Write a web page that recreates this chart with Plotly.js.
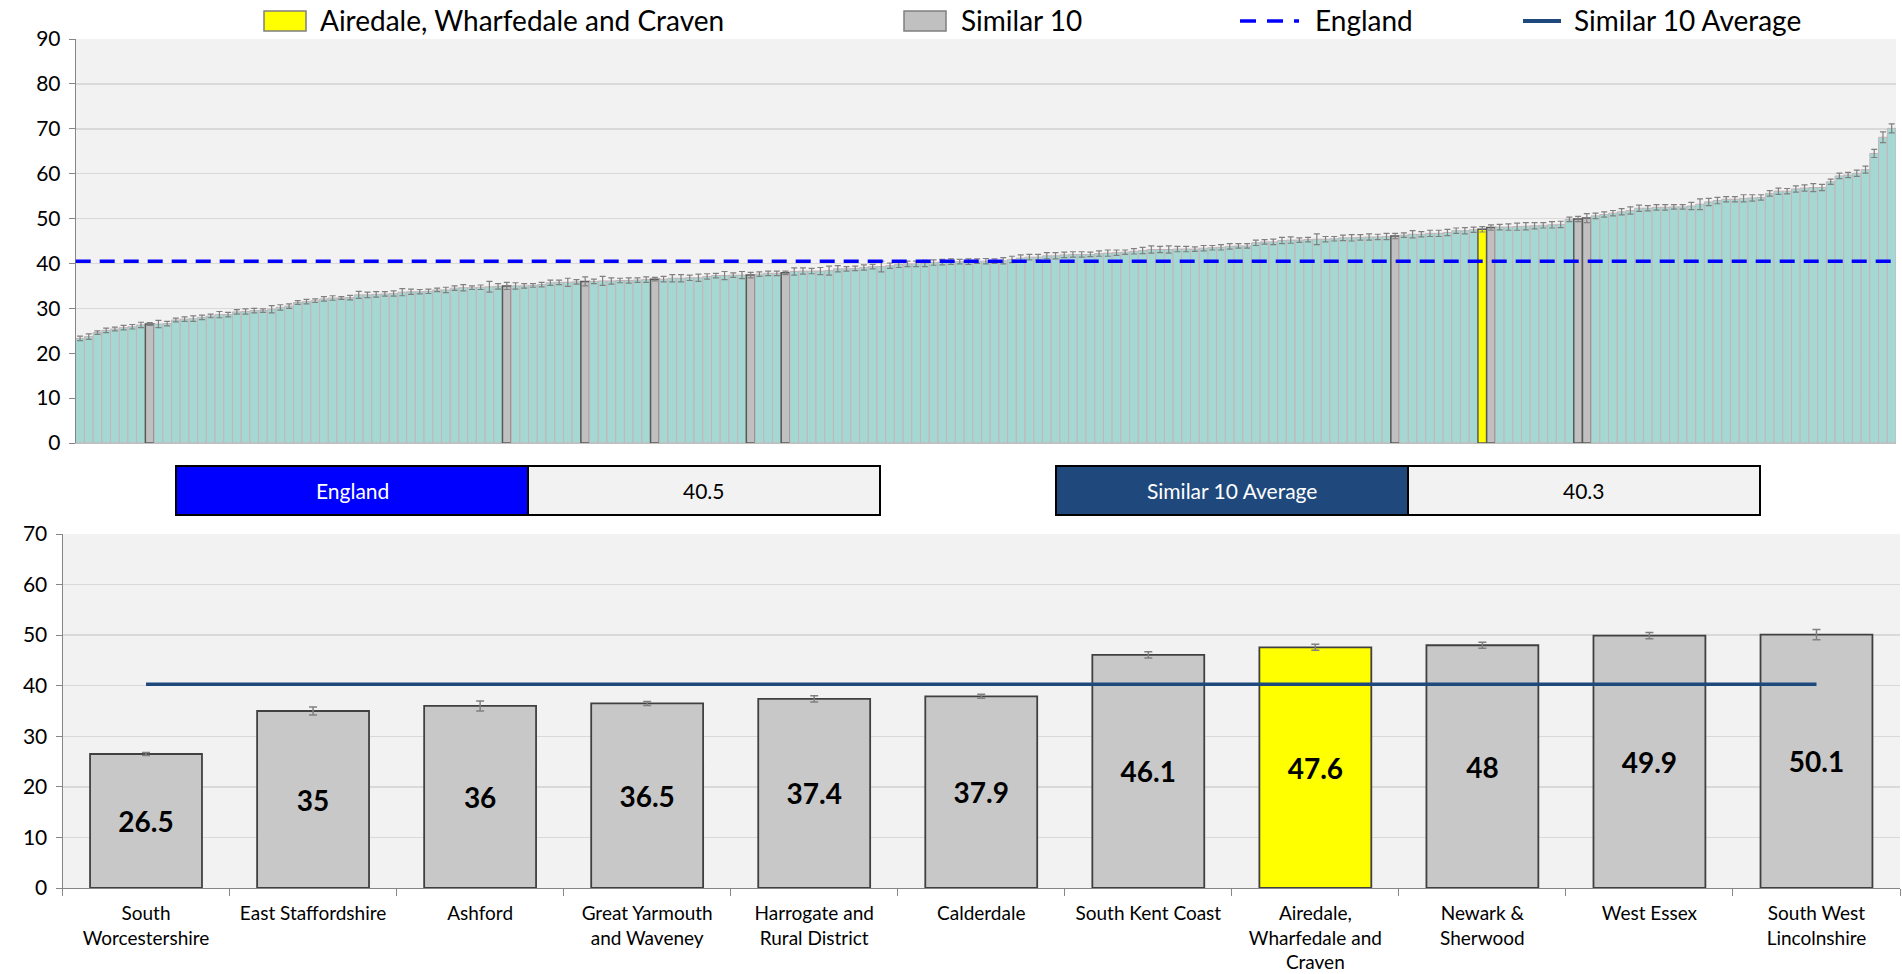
<!DOCTYPE html>
<html><head><meta charset="utf-8">
<script src="https://cdn.plot.ly/plotly-3.0.1.min.js"></script>
<style>html,body{margin:0;padding:0;background:#fff}#chart{width:1902px;height:974px}</style>
</head><body><div id="chart"></div>
<script>
// ---------- data ----------
const topValues = [
23.3,23.7,24.6,25.1,25.4,25.7,25.9,26.3,26.5,26.5,
26.6,27.4,27.6,27.7,28.0,28.3,28.6,28.6,29.2,29.3,
29.5,29.5,29.8,30.2,30.5,31.3,31.5,31.7,32.1,32.3,
32.3,32.4,33.0,33.0,33.1,33.2,33.3,33.6,33.7,33.7,
33.8,34.1,34.1,34.5,34.6,34.6,34.7,34.8,34.9,35.0,
35.0,35.0,35.1,35.3,35.7,35.8,35.8,35.9,36.0,36.0,
36.1,36.1,36.2,36.2,36.3,36.4,36.5,36.5,36.7,36.7,
36.8,36.8,37.1,37.3,37.3,37.4,37.4,37.4,37.6,37.8,
37.8,37.9,38.2,38.3,38.3,38.3,38.4,38.8,38.8,38.9,
39.1,39.3,39.3,39.5,39.8,39.9,39.9,40.0,40.2,40.3,
40.4,40.4,40.4,40.5,40.5,40.5,40.6,40.9,41.2,41.4,
41.4,41.7,41.7,41.9,42.0,42.0,42.0,42.2,42.3,42.4,
42.5,42.7,42.9,43.1,43.1,43.1,43.2,43.2,43.2,43.4,
43.5,43.6,43.8,43.9,43.9,44.6,44.8,44.8,45.1,45.2,
45.2,45.3,45.4,45.4,45.5,45.7,45.7,45.8,45.9,45.9,
46.0,46.1,46.3,46.5,46.5,46.7,46.7,46.9,47.3,47.3,
47.5,47.6,48.0,48.1,48.1,48.2,48.3,48.4,48.5,48.6,
48.7,49.8,49.9,50.1,50.6,50.9,51.2,51.5,51.8,52.3,
52.3,52.5,52.5,52.6,52.6,52.8,53.2,53.7,54.0,54.3,
54.3,54.5,54.6,54.7,55.6,56.1,56.1,56.6,56.8,56.9,
56.9,58.2,59.5,59.7,60.1,60.9,64.5,68.1,70.1
];
const topErrors = [
0.5,0.6,0.4,0.5,0.4,0.5,0.5,0.6,0.3,0.8,
0.5,0.4,0.5,0.6,0.5,0.4,0.7,0.5,0.5,0.6,
0.5,0.4,0.8,0.6,0.5,0.4,0.5,0.4,0.5,0.5,
0.3,0.5,0.8,0.6,0.6,0.5,0.6,0.8,0.6,0.5,
0.5,0.4,0.6,0.5,0.7,0.4,0.5,1.2,0.6,0.8,
0.7,0.5,0.4,0.5,0.6,0.5,0.9,0.5,1.0,0.5,
1.0,0.7,0.5,0.6,0.5,0.6,0.4,0.6,0.8,0.8,
0.6,0.8,0.6,0.5,0.9,0.5,0.8,0.6,0.5,0.5,
0.5,0.4,0.8,0.7,0.6,0.8,1.0,0.7,0.5,0.5,
0.6,0.5,1.2,0.6,0.7,0.6,0.6,0.7,0.6,0.6,
0.6,0.5,0.6,0.5,0.6,0.5,0.7,0.7,0.7,0.6,
0.6,0.7,0.7,0.6,0.6,0.6,0.5,0.6,0.7,0.6,
0.5,0.6,0.7,0.8,0.7,0.8,0.6,0.6,0.5,0.6,
0.5,0.6,0.6,0.5,0.5,0.6,0.5,0.6,0.7,0.7,
0.5,0.5,1.2,0.6,0.5,0.6,0.7,0.6,0.7,0.6,
0.7,0.6,0.5,0.8,0.6,0.7,0.7,0.7,0.6,0.7,
0.6,0.6,0.6,0.6,0.7,0.8,0.8,0.7,0.6,0.7,
0.7,0.5,0.6,1.0,0.6,0.6,0.6,0.7,0.8,0.7,
0.6,0.6,0.6,0.5,0.5,0.8,1.2,0.8,0.7,0.6,
0.6,0.8,0.7,0.6,0.6,0.7,0.6,0.7,0.7,0.9,
0.7,0.6,0.6,0.6,0.7,0.8,0.9,1.2,1.0
];
const similarIdx = [8,49,58,66,77,81,151,162,172,173];
const localIdx = 161;

const categories = ["South<br>Worcestershire","East Staffordshire","Ashford","Great Yarmouth<br>and Waveney","Harrogate and<br>Rural District","Calderdale","South Kent Coast","Airedale,<br>Wharfedale and<br>Craven","Newark &<br>Sherwood","West Essex","South West<br>Lincolnshire"];
const values = [26.5,35,36,36.5,37.4,37.9,46.1,47.6,48,49.9,50.1];
const errors = [0.3,0.8,1.0,0.4,0.6,0.4,0.6,0.6,0.6,0.6,1.0];
const localCategory = 7;
const englandValue = 40.5;
const similarAvg = 40.3;
const legendLabels = ["Airedale, Wharfedale and Craven","Similar 10","England","Similar 10 Average"];

// ---------- helpers ----------
const W = 1902, H = 974;
const px = x => x / W;
const py = y => 1 - y / H;
const FONT = "Lato, 'Open Sans', sans-serif";
const TEAL = "#A6D8D3", GREY = "#C0C0C0", YEL = "#FFFF00";

const topX = topValues.map((_, i) => i);
const isHi = i => i === localIdx || similarIdx.includes(i);
const topColors = topValues.map((_, i) => i === localIdx ? YEL : (similarIdx.includes(i) ? GREY : TEAL));
const topLineColors = topValues.map((_, i) => isHi(i) ? "#595959" : "#C4B4B8");
const topLineW = topValues.map((_, i) => isHi(i) ? 1.5 : 1);

const traces = [
  {
    type: "bar", x: topX, y: topValues, xaxis: "x", yaxis: "y", width: 1,
    marker: {color: topColors, line: {color: topLineColors, width: topLineW}},
    error_y: {type: "data", array: topErrors, visible: true, color: "#808080", thickness: 1.2, width: 3},
    showlegend: false, hoverinfo: "y"
  },
  {
    type: "bar", x: categories, y: values, xaxis: "x2", yaxis: "y2", width: 0.67,
    marker: {color: values.map((_, i) => i === localCategory ? YEL : "#C8C8C8"), line: {color: "#404040", width: 1.8}},
    error_y: {type: "data", array: errors, visible: true, color: "#808080", thickness: 1.5, width: 4},
    text: values.map(v => String(v)), textposition: "inside", insidetextanchor: "middle", textangle: 0,
    textfont: {family: FONT, size: 28, color: "#000", weight: 700},
    constraintext: "none", showlegend: false, hoverinfo: "y"
  },
  {
    type: "scatter", mode: "lines", x: categories, y: categories.map(() => similarAvg),
    xaxis: "x2", yaxis: "y2", line: {color: "#1F497D", width: 3.5}, showlegend: false, hoverinfo: "skip"
  }
];

const shapes = [
  {type: "line", xref: "x domain", yref: "y", x0: 0, x1: 1, y0: englandValue, y1: englandValue,
   line: {color: "#0000FF", width: 3.5, dash: "15px,9px"}, layer: "above"},
  {type: "rect", xref: "paper", yref: "paper", x0: px(264), x1: px(306), y0: py(31), y1: py(11),
   fillcolor: YEL, line: {color: "#7F7F7F", width: 1.5}},
  {type: "rect", xref: "paper", yref: "paper", x0: px(904), x1: px(946), y0: py(31), y1: py(11),
   fillcolor: GREY, line: {color: "#7F7F7F", width: 1.5}},
  {type: "line", xref: "paper", yref: "paper", x0: px(1240), x1: px(1299), y0: py(21), y1: py(21),
   line: {color: "#0000FF", width: 3.5, dash: "16px,11px"}},
  {type: "line", xref: "paper", yref: "paper", x0: px(1523), x1: px(1561), y0: py(21), y1: py(21),
   line: {color: "#1F497D", width: 4}},
  {type: "rect", xref: "paper", yref: "paper", x0: px(176), x1: px(528), y0: py(515), y1: py(466),
   fillcolor: "#0000FF", line: {color: "#000", width: 2}},
  {type: "rect", xref: "paper", yref: "paper", x0: px(528), x1: px(880), y0: py(515), y1: py(466),
   fillcolor: "#F2F2F2", line: {color: "#000", width: 2}},
  {type: "rect", xref: "paper", yref: "paper", x0: px(1056), x1: px(1408), y0: py(515), y1: py(466),
   fillcolor: "#1F497D", line: {color: "#000", width: 2}},
  {type: "rect", xref: "paper", yref: "paper", x0: px(1408), x1: px(1760), y0: py(515), y1: py(466),
   fillcolor: "#F2F2F2", line: {color: "#000", width: 2}}
];

const ann = (x, y, text, size, color, xanchor) => ({
  xref: "paper", yref: "paper", x: px(x), y: py(y), text: text, showarrow: false,
  xanchor: xanchor || "center", yanchor: "middle", font: {family: FONT, size: size, color: color}
});

const annotations = [
  ann(318, 20, legendLabels[0], 28, "#000", "left"),
  ann(959, 20, legendLabels[1], 28, "#000", "left"),
  ann(1313, 20, legendLabels[2], 28, "#000", "left"),
  ann(1572, 20, legendLabels[3], 28, "#000", "left"),
  ann(352, 491, "England", 21, "#FFFFFF"),
  ann(704, 491, String(englandValue), 21, "#000"),
  ann(1232, 491, "Similar 10 Average", 21, "#FFFFFF"),
  ann(1584, 491, String(similarAvg), 21, "#000")
];

const layout = {
  width: W, height: H,
  margin: {l: 0, r: 0, t: 0, b: 0},
  paper_bgcolor: "#FFFFFF", plot_bgcolor: "#F2F2F2",
  font: {family: FONT, color: "#000"},
  bargap: 0,
  showlegend: false,
  xaxis: {domain: [px(75.7), px(1896)], range: [-0.5, topValues.length - 0.5], showticklabels: false,
          showgrid: false, zeroline: false, showline: true, linecolor: "#BFBFBF", linewidth: 1, ticks: ""},
  yaxis: {domain: [py(443), py(39)], range: [0, 90], dtick: 10, tick0: 0, showgrid: true, gridcolor: "#D9D9D9",
          gridwidth: 1.5, zeroline: false, showline: true, linecolor: "#868686", ticks: "outside", ticklen: 6,
          tickcolor: "#868686", tickfont: {family: FONT, size: 21, color: "#000"}, ticklabelstandoff: 4},
  xaxis2: {domain: [px(62.5), px(1900)], anchor: "y2", type: "category", tickson: "boundaries",
           ticks: "outside", ticklen: 7, tickcolor: "#868686", showgrid: false, showline: true, linecolor: "#868686",
           tickfont: {family: FONT, size: 19, color: "#000"}, tickangle: 0, ticklabelstandoff: 8},
  yaxis2: {domain: [py(888), py(534)], anchor: "x2", range: [0, 70], dtick: 10, tick0: 0, showgrid: true,
           gridcolor: "#D9D9D9", gridwidth: 1.5, zeroline: false, showline: true, linecolor: "#868686",
           ticks: "outside", ticklen: 6, tickcolor: "#868686", tickfont: {family: FONT, size: 21, color: "#000"},
           ticklabelstandoff: 4},
  shapes: shapes,
  annotations: annotations
};

Plotly.newPlot("chart", traces, layout, {displayModeBar: false, staticPlot: true});
</script>
</body></html>
